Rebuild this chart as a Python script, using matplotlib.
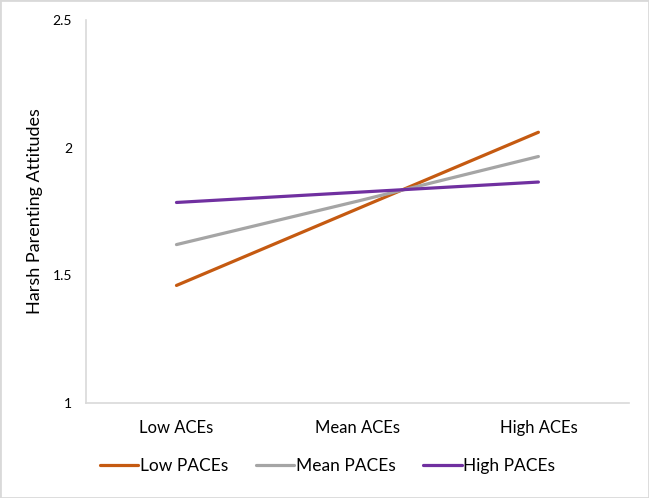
import matplotlib.pyplot as plt
from matplotlib.patches import Rectangle

categories = ["Low ACEs", "Mean ACEs", "High ACEs"]
low_paces = [1.46, 1.76, 2.06]
mean_paces = [1.62, 1.79, 1.965]
high_paces = [1.785, 1.825, 1.865]
series_names = ["Low PACEs", "Mean PACEs", "High PACEs"]
colors = ["#C55A11", "#A5A5A5", "#7030A0"]

plt.rcParams['font.family'] = ['Lato', 'DejaVu Sans']

fig = plt.figure(figsize=(6.49, 4.98), dpi=100)
ax = fig.add_axes([0.1325, 0.191, 0.8365, 0.769])

x = range(len(categories))
for vals, name, c in zip([low_paces, mean_paces, high_paces], series_names, colors):
    ax.plot(x, vals, color=c, lw=2.3, label=name, solid_capstyle='round')

ax.set_xlim(-0.5, 2.5)
ax.set_ylim(1, 2.5)
ax.set_yticks([1, 1.5, 2, 2.5])
ax.set_yticklabels(["1", "1.5", "2", "2.5"])
ax.set_xticks(list(x))
ax.set_xticklabels(categories, fontsize=12)
ax.tick_params(axis='y', length=0, labelsize=10, pad=10)
ax.tick_params(axis='x', length=0, pad=12)
for s in ["top", "right"]:
    ax.spines[s].set_visible(False)
for s in ["left", "bottom"]:
    ax.spines[s].set_color("#d9d9d9")
    ax.spines[s].set_linewidth(1.2)

ax.set_ylabel("Harsh Parenting Attitudes", fontsize=13, labelpad=7)

fig.legend(loc="center", bbox_to_anchor=(0.505, 0.064), ncol=3, frameon=False,
           fontsize=12.5, handlelength=2.2, handletextpad=0.1, columnspacing=1.6)

fig.patches.append(Rectangle((0, 0), 1, 1, transform=fig.transFigure, fill=False,
                             edgecolor="#d9d9d9", lw=2))

fig.savefig("out.png", dpi=100)
